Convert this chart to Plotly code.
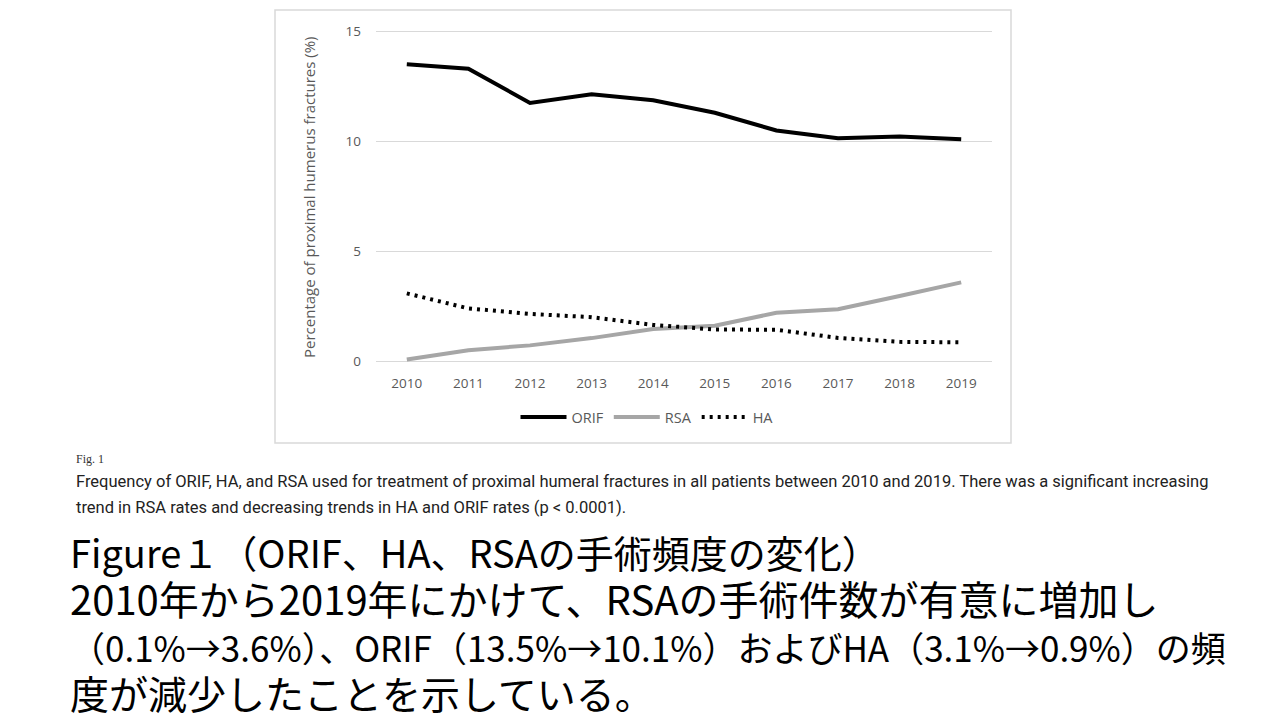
import plotly.graph_objects as go

years = [2010, 2011, 2012, 2013, 2014, 2015, 2016, 2017, 2018, 2019]
orif = [13.5, 13.3, 11.75, 12.14, 11.87, 11.3, 10.5, 10.15, 10.22, 10.1]
rsa = [0.1, 0.52, 0.74, 1.07, 1.48, 1.63, 2.22, 2.38, 2.98, 3.6]
ha = [3.1, 2.42, 2.17, 2.02, 1.67, 1.46, 1.45, 1.08, 0.9, 0.88]
y_ticks = [0, 5, 10, 15]

W, H = 1280, 720
OFF = 8  # page body margin offset
def px(x):
    return (x - OFF) / W
def py(y):
    return 1 - (y - OFF) / H

fig = go.Figure()
fig.add_trace(go.Scatter(x=years, y=orif, name="ORIF", mode="lines",
                         line=dict(color="black", width=4)))
fig.add_trace(go.Scatter(x=years, y=rsa, name="RSA", mode="lines",
                         line=dict(color="#a6a6a6", width=4)))
fig.add_trace(go.Scatter(x=years, y=ha, name="HA", mode="lines",
                         line=dict(color="black", width=4, dash="3px,5px")))

chart_font = "Open Sans, Lato, sans-serif"
tick_font = dict(family=chart_font, size=13.5, color="#595959")
fig.update_layout(
    width=W, height=H,
    margin=dict(l=0, r=0, t=0, b=0, autoexpand=False),
    paper_bgcolor="white", plot_bgcolor="white",
    showlegend=True,
    legend=dict(orientation="h", x=px(647), y=py(417), xanchor="center", yanchor="middle",
                font=dict(family=chart_font, size=14.5, color="#595959"),
                itemwidth=46, tracegroupgap=0, bgcolor="rgba(0,0,0,0)"),
    xaxis=dict(domain=[px(376), px(992)], range=[2009.5, 2019.5],
               tickvals=years, ticktext=[str(y) for y in years],
               showgrid=False, zeroline=False, showline=False, ticks="",
               tickfont=tick_font, anchor="y", automargin=False, ticklabelstandoff=10),
    yaxis=dict(domain=[py(363), py(30)], range=[-0.06, 15.06], tickvals=y_ticks,
               showgrid=True, gridcolor="#d9d9d9", gridwidth=1, zeroline=False,
               showline=False, ticks="", tickfont=tick_font, ticklabelstandoff=14,
               automargin=False),
)

# chart border box
fig.add_shape(type="rect", xref="paper", yref="paper",
              x0=px(275), x1=px(1011), y0=py(443), y1=py(10),
              line=dict(color="#d9d9d9", width=1.5), fillcolor="rgba(0,0,0,0)", layer="below")

annotations = [
    dict(text="Percentage of proximal humerus fractures (%)", x=px(309), y=py(197),
         textangle=-90, font=dict(family=chart_font, size=15, color="#595959"),
         xanchor="center", yanchor="middle"),
    dict(text="Fig. 1", x=px(74), y=py(459), xanchor="left", yanchor="middle",
         font=dict(family="Liberation Serif, serif", size=12, color="#333333")),
    dict(text="Frequency of ORIF, HA, and RSA used for treatment of proximal humeral fractures in all patients between 2010 and 2019. There was a significant increasing"
              "<br>trend in RSA rates and decreasing trends in HA and ORIF rates (p < 0.0001).",
         x=px(74), y=py(494), xanchor="left", yanchor="middle", align="left",
         font=dict(family="Roboto, sans-serif", size=20, color="#222222")),
]
# caption lines use spans at 16.5px with base size 20 -> 26px line spacing
annotations[2]["text"] = "<br>".join(
    '<span style="font-size:16.5px">%s</span>' % s for s in annotations[2]["text"].split("<br>"))

jp_lines = [
    ("Figure１（ORIF、HA、RSAの手術頻度の変化）", 38),
    ("2010年から2019年にかけて、RSAの手術件数が有意に増加し", 40),
    ("（0.1%→3.6%）、ORIF（13.5%→10.1%）およびHA（3.1%→0.9%）の頻", 35),
    ("度が減少したことを示している。", 39),
]
jp_text = "<br>".join('<span style="font-size:%dpx">%s</span>' % (s, t) for t, s in jp_lines)
annotations.append(dict(text=jp_text, x=px(68), y=py(622), xanchor="left", yanchor="middle",
                        align="left",
                        font=dict(family="Noto Sans CJK JP", size=36.2, color="black")))
for a in annotations:
    a.update(xref="paper", yref="paper", showarrow=False)
fig.update_layout(annotations=annotations)

fig.write_html("out.html")
